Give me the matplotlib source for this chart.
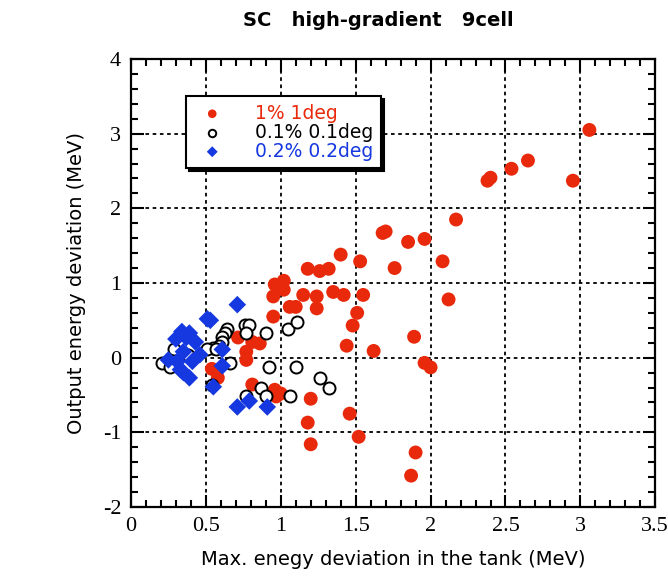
import matplotlib.pyplot as plt
from matplotlib.ticker import MultipleLocator

plt.rcParams["axes.unicode_minus"] = False

# datos
rojo_x = [3.06, 2.65, 2.54, 2.38, 2.40, 2.95, 2.17, 1.68, 1.70, 1.85, 1.96,
          1.40, 1.53, 1.76, 2.08, 1.18, 1.26, 1.32, 0.96, 1.02, 1.02, 0.95,
          1.15, 1.24, 1.35, 1.42, 1.55, 2.12, 1.06, 1.10, 1.24, 0.95, 1.51,
          1.48, 1.44, 1.62, 1.89, 1.96, 2.00, 0.96, 1.00, 0.97, 1.20, 1.18,
          1.46, 1.20, 1.52, 1.90, 1.87, 0.715, 0.81, 0.86, 0.77, 0.77, 0.54,
          0.58, 0.81]
rojo_y = [3.05, 2.64, 2.53, 2.37, 2.41, 2.37, 1.85, 1.67, 1.69, 1.55, 1.59,
          1.38, 1.29, 1.20, 1.29, 1.19, 1.16, 1.19, 0.98, 1.03, 0.91, 0.82,
          0.84, 0.82, 0.88, 0.84, 0.84, 0.78, 0.68, 0.68, 0.66, 0.55, 0.60,
          0.43, 0.16, 0.09, 0.28, -0.07, -0.13, -0.43, -0.48, -0.52, -0.55,
          -0.87, -0.75, -1.16, -1.06, -1.27, -1.58, 0.27, 0.21, 0.19, 0.08,
          -0.03, -0.15, -0.27, -0.36]

negro_x = [0.64, 0.63, 0.61, 0.61, 0.59, 0.55, 0.51, 0.57, 0.29, 0.38, 0.21,
           0.26, 0.76, 0.79, 0.77, 0.90, 1.05, 1.11, 0.66, 0.92, 1.10, 0.54,
           0.77, 0.87, 0.90, 1.06, 1.26, 1.32]
negro_y = [0.39, 0.33, 0.27, 0.21, 0.15, 0.13, 0.12, 0.11, 0.11, 0.04, -0.07,
           -0.13, 0.44, 0.44, 0.33, 0.33, 0.39, 0.48, -0.07, -0.12, -0.12,
           -0.36, -0.51, -0.41, -0.52, -0.51, -0.27, -0.40]

azul_x = [0.71, 0.51, 0.53, 0.34, 0.39, 0.37, 0.30, 0.43, 0.35, 0.46, 0.41,
          0.25, 0.31, 0.33, 0.35, 0.39, 0.61, 0.61, 0.55, 0.79, 0.71, 0.91]
azul_y = [0.71, 0.52, 0.50, 0.35, 0.33, 0.27, 0.25, 0.21, 0.08, 0.04, -0.05,
          -0.03, -0.05, -0.16, -0.20, -0.27, 0.11, -0.11, -0.39, -0.58, -0.66,
          -0.66]

etiquetas = ["1% 1deg", "0.1% 0.1deg", "0.2% 0.2deg"]
colores = ["#E8290B", "black", "#1538E0"]
xticks = [0, 0.5, 1, 1.5, 2, 2.5, 3, 3.5]
xtick_labels = ["0", "0.5", "1", "1.5", "2", "2.5", "3", "3.5"]
yticks = [-2, -1, 0, 1, 2, 3, 4]

fig = plt.figure(figsize=(6.68, 5.87), dpi=100)
ax = fig.add_axes([0.196, 0.1363, 0.785, 0.7632])

ax.scatter(rojo_x, rojo_y, s=100, color=colores[0], edgecolors="none", zorder=3, label=etiquetas[0])
ax.scatter(negro_x, negro_y, s=75, facecolors="white", edgecolors=colores[1], linewidths=1.4, zorder=4, label=etiquetas[1])
ax.scatter(azul_x, azul_y, s=80, marker="D", color=colores[2], edgecolors="none", zorder=5, label=etiquetas[2])

ax.set_xlim(0, 3.5)
ax.set_ylim(-2, 4)
ax.set_xticks(xticks)
ax.set_xticklabels(xtick_labels)
ax.set_yticks(yticks)
ax.xaxis.set_minor_locator(MultipleLocator(0.1))
ax.yaxis.set_minor_locator(MultipleLocator(0.2))
ax.tick_params(which="both", direction="in", top=True, right=True, width=1.5)
ax.tick_params(which="major", length=9, labelsize=16, pad=7)
ax.tick_params(which="minor", length=5)
for lab in ax.get_xticklabels() + ax.get_yticklabels():
    lab.set_family("Liberation Serif")
for s in ax.spines.values():
    s.set_linewidth(1.6)
ax.grid(True, which="major", color="black", linestyle=(0, (2, 2)), linewidth=1.3)

ax.set_xlabel("Max. enegy deviation in the tank (MeV)", fontsize=14, labelpad=10)
ax.set_ylabel("Output energy deviation (MeV)", fontsize=14, labelpad=12)
fig.text(0.566, 0.965, "SC   high-gradient   9cell", ha="center", va="center",
         fontsize=14, fontweight="bold")

leg = ax.legend(loc="upper left", bbox_to_anchor=(0.105, 0.917), fontsize=13.5,
                frameon=True, fancybox=False, shadow={"color": "black", "alpha": 1},
                handletextpad=1.3, borderpad=0.4, labelspacing=0.0, markerscale=0.62,
                borderaxespad=0)
leg.get_frame().set_edgecolor("black")
leg.get_frame().set_linewidth(1.5)
for txt, c in zip(leg.get_texts(), colores):
    txt.set_color(c)

plt.savefig("out.png", dpi=100)
